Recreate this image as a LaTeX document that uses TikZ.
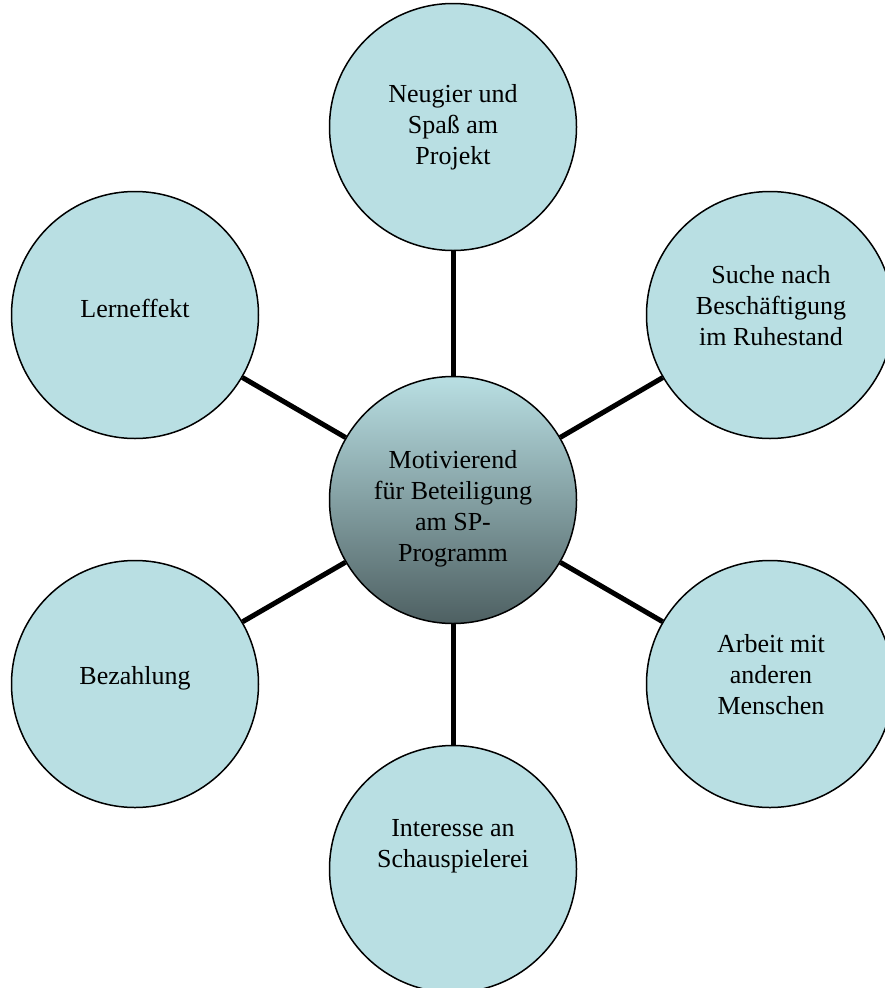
\documentclass[tikz,border=0pt]{standalone}
\usepackage{fontspec}
\setmainfont{Liberation Serif}
\definecolor{bubble}{HTML}{B9DFE3}
\definecolor{darkbub}{HTML}{4E6062}
\begin{document}
\begin{tikzpicture}[x=1pt,y=-1pt,
  bub/.style={circle,draw=black,line width=1.5pt,fill=bubble,minimum size=247pt,inner sep=0pt},
  hub/.style={circle,draw=black,line width=1.5pt,top color=bubble,bottom color=darkbub,minimum size=247pt,inner sep=0pt},
  conn/.style={line width=5pt,draw=black},
  lbl/.style={align=center,inner sep=0pt,font=\fontsize{26}{31}\selectfont}]
\useasboundingbox (0,0) rectangle (885,988);
% circles
\node[hub] (c) at (453,500) {};
\node[bub] (n1) at (453,127) {};
\node[bub] (n2) at (770,315) {};
\node[bub] (n3) at (770,684) {};
\node[bub] (n4) at (453,869) {};
\node[bub] (n5) at (135,684) {};
\node[bub] (n6) at (135,315) {};
% connectors
\foreach \n in {n1,n2,n3,n4,n5,n6} \draw[conn] (c) -- (\n);
% labels
\node[lbl] (tc) at (453,509) {Motivierend\\für Beteiligung\\am SP-\\Programm};
\node[lbl] (t1) at (453,127) {Neugier und\\Spaß am\\Projekt};
\node[lbl] (t2) at (771,306) {Suche nach\\Beschäftigung\\im Ruhestand};
\node[lbl] (t3) at (771,675) {Arbeit mit\\anderen\\Menschen};
\node[lbl] (t4) at (453,846) {Interesse an\\Schauspielerei};
\node[lbl] (t5) at (135,678) {Bezahlung};
\node[lbl] (t6) at (135,308) {Lerneffekt};
\end{tikzpicture}
\end{document}
